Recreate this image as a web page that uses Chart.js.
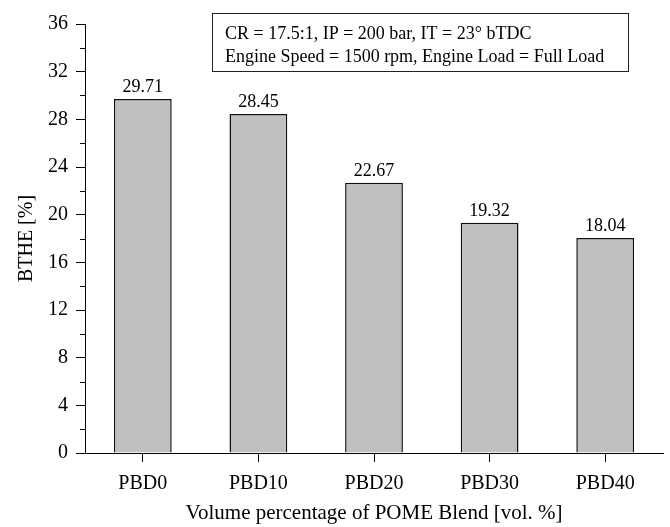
<!DOCTYPE html>
<html>
<head>
<meta charset="utf-8">
<script src="https://cdn.jsdelivr.net/npm/chart.js@4.4.1/dist/chart.umd.min.js"></script>
<style>
    html, body { margin: 0; padding: 0; background: #fff; }
    #wrap { width: 670px; height: 527px; }
</style>
</head>
<body>
<div id="wrap"><canvas id="btheChart" width="670" height="527"></canvas></div>
<script>
const blends = ['PBD0', 'PBD10', 'PBD20', 'PBD30', 'PBD40'];
const bthe = [29.71, 28.45, 22.67, 19.32, 18.04];
const yMin = 0;
const yMax = 36;
const noteLines = [
    'CR = 17.5:1, IP = 200 bar, IT = 23\u00B0 bTDC',
    'Engine Speed = 1500 rpm, Engine Load = Full Load'
];

const serif = "'Liberation Serif', 'Times New Roman', serif";

// minor ticks, value labels, note box
const extrasPlugin = {
    id: 'extras',
    afterDraw(chart) {
        const ctx = chart.ctx;
        const y = chart.scales.y;
        const area = chart.chartArea;
        ctx.save();

        // minor ticks on y
        ctx.strokeStyle = '#000';
        ctx.lineWidth = 1;
        for (let v = yMin + 2; v < yMax; v += 4) {
            const py = Math.round(y.getPixelForValue(v)) + 0.5;
            ctx.beginPath();
            ctx.moveTo(area.left - 5, py);
            ctx.lineTo(area.left, py);
            ctx.stroke();
        }

        // x axis line runs a bit past the y axis
        ctx.beginPath();
        ctx.moveTo(area.left - 8, Math.round(area.bottom) + 0.5);
        ctx.lineTo(area.left, Math.round(area.bottom) + 0.5);
        ctx.stroke();

        // values above bars
        ctx.fillStyle = '#000';
        ctx.font = '18px ' + serif;
        ctx.textAlign = 'center';
        ctx.textBaseline = 'bottom';
        const meta = chart.getDatasetMeta(0);
        meta.data.forEach((bar, i) => {
            ctx.fillText(bthe[i].toFixed(2), bar.x, bar.y - 3);
        });

        // note box
        const bx = 212, by = 13, bw = 416, bh = 58;
        ctx.strokeStyle = '#222';
        ctx.strokeRect(bx + 0.5, by + 0.5, bw, bh);
        ctx.textAlign = 'left';
        ctx.textBaseline = 'middle';
        ctx.font = '18px ' + serif;
        ctx.fillText(noteLines[0], bx + 13, by + 21);
        ctx.fillText(noteLines[1], bx + 13, by + 44);

        ctx.restore();
    }
};

new Chart(document.getElementById('btheChart'), {
    type: 'bar',
    data: {
        labels: blends,
        datasets: [{
            label: 'BTHE',
            data: bthe,
            backgroundColor: '#c0c0c0',
            borderColor: '#111',
            borderWidth: 1.5,
            categoryPercentage: 1.0,
            barPercentage: 0.5
        }]
    },
    options: {
        responsive: false,
        animation: false,
        layout: {
            padding: { left: 0, right: 7, top: 24, bottom: 0 }
        },
        plugins: {
            legend: { display: false },
            tooltip: { enabled: false }
        },
        scales: {
            x: {
                grid: {
                    offset: false,
                    drawOnChartArea: false,
                    drawTicks: true,
                    tickLength: 9,
                    color: '#000'
                },
                border: { color: '#000', width: 1 },
                ticks: {
                    color: '#000',
                    padding: 10,
                    font: { family: serif, size: 20 }
                },
                title: {
                    display: true,
                    text: 'Volume percentage of POME Blend [vol. %]',
                    color: '#000',
                    font: { family: serif, size: 21 },
                    padding: { top: 0, bottom: 1 }
                },
                afterFit(scale) { scale.height = 74; }
            },
            y: {
                min: yMin,
                max: yMax,
                grid: {
                    drawOnChartArea: false,
                    drawTicks: true,
                    tickLength: 9,
                    tickColor: (c) => (c.tick && c.tick.value % 4 === 0) ? '#000' : 'rgba(0,0,0,0)'
                },
                border: { color: '#000', width: 1 },
                ticks: {
                    stepSize: 2,
                    color: '#000',
                    padding: 8,
                    font: { family: serif, size: 20 },
                    callback: (v) => (v % 4 === 0 ? v : '')
                },
                title: {
                    display: true,
                    text: 'BTHE [%]',
                    color: '#000',
                    font: { family: serif, size: 20 },
                    padding: { top: 15, bottom: 0 }
                },
                afterFit(scale) { scale.width = 85; }
            }
        }
    },
    plugins: [extrasPlugin]
});
</script>
</body>
</html>
